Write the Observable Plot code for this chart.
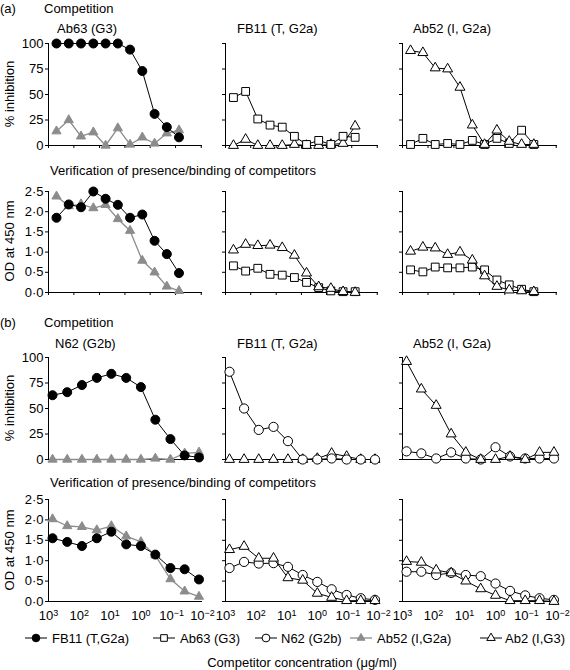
<!DOCTYPE html>
<html><head><meta charset="utf-8">
<script src="https://cdn.jsdelivr.net/npm/d3@7"></script>
<script src="https://cdn.jsdelivr.net/npm/@observablehq/plot@0.6"></script>
<style>
body{margin:0;background:#fff}
#c{position:relative;width:570px;height:670px;font-family:"Liberation Sans",Arial,Helvetica,sans-serif;font-size:13px;color:#000;overflow:hidden}
.t{position:absolute;white-space:nowrap;line-height:1;transform:translateY(-50%)}
.r{position:absolute;white-space:nowrap;line-height:1;transform:translate(-50%,-50%) rotate(-90deg)}
#c svg.p{position:absolute;overflow:visible}
</style></head><body><div id="c"></div><script>
// ---------- data ----------
// competitor concentrations (µg/ml) of the dilution series
const conc_a = [550, 220, 88, 35, 14, 5.6, 2.25, 0.9, 0.36, 0.144, 0.058];
const conc_b = [740, 247, 82, 27, 9.1, 3.0, 1.0, 0.34, 0.11, 0.038, 0.013];

const compTicks = [0, 25, 50, 75, 100];
const odTicks = [0, 0.5, 1, 1.5, 2, 2.5];
const rowATickMarks = [1000, 150, 22, 3.3, 0.5, 0.075, 0.011];
const decadeTicks = [1000, 100, 10, 1, 0.1, 0.01];

// (a) competition, % inhibition
const a_comp_Ab63_FB11 = [100, 100, 100, 100, 100, 100, 94, 73, 31, 18, 8];
const a_comp_Ab63_Ab52 = [14, 25, 9, 13, 0, 17, 1, 8, 2, 12, 15];
const a_comp_FB11_Ab63 = [47, 53, 26, 20, 18, 9, 1, 5, 1, 9, 8];
const a_comp_FB11_Ab2  = [0, 6, 0, 0, 0, 1, 0, 0, 1, 2, 19];
const a_comp_Ab52_Ab2  = [93, 91, 76, 75, 57, 20, 1, 15, 4, 1, 1];
const a_comp_Ab52_Ab63 = [1, 7, 1, 2, 1, 5, 1, 7, 2, 15, 1];
// (a) verification, OD at 450 nm
const a_od_Ab63_FB11 = [1.85, 2.18, 2.11, 2.5, 2.32, 2.17, 1.85, 1.93, 1.28, 0.95, 0.48];
const a_od_Ab63_Ab52 = [2.38, 2.14, 2.19, 2.09, 2.17, 1.82, 1.53, 0.79, 0.5, 0.15, 0.04];
const a_od_FB11_Ab2  = [1.05, 1.19, 1.16, 1.17, 1.11, 0.92, 0.48, 0.14, 0.1, 0.02, 0];
const a_od_FB11_Ab63 = [0.66, 0.53, 0.6, 0.45, 0.43, 0.37, 0.25, 0.12, 0.04, 0.02, 0.02];
const a_od_Ab52_Ab2  = [1.02, 1.12, 1.1, 0.94, 1.0, 0.8, 0.41, 0.15, 0.06, 0.04, 0.02];
const a_od_Ab52_Ab63 = [0.56, 0.51, 0.63, 0.61, 0.61, 0.63, 0.56, 0.31, 0.19, 0.08, 0.02];
// (b) competition, % inhibition
const b_comp_N62_FB11  = [63, 66, 73, 80, 84, 80, 71, 39, 20, 4, 2];
const b_comp_N62_Ab52  = [0, 0, 0, 0, 0, 0, 0, 1, 0, 6, 7];
const b_comp_FB11_N62  = [86, 50, 29, 32, 18, 0, 0, 1, 0, 0, 0];
const b_comp_FB11_Ab2  = [0, 0, 0, 0, 0, 0, 1, 6, 3, 0, 0];
const b_comp_Ab52_Ab2  = [96, 69, 53, 25, 7, 0, 0, 3, 0, 7, 7];
const b_comp_Ab52_N62  = [8, 6, 1, 7, 1, 0, 12, 3, 1, 1, 1];
// (b) verification, OD at 450 nm
const b_od_N62_FB11  = [1.55, 1.46, 1.36, 1.55, 1.71, 1.4, 1.36, 1.15, 0.82, 0.79, 0.54];
const b_od_N62_Ab52  = [2.02, 1.85, 1.83, 1.75, 1.85, 1.6, 1.46, 1.13, 0.55, 0.25, 0.12];
const b_od_FB11_Ab2  = [1.27, 1.35, 1.06, 1.06, 0.58, 0.52, 0.2, 0.1, 0.02, 0.02, 0.02];
const b_od_FB11_N62  = [0.82, 0.97, 0.93, 0.94, 0.85, 0.65, 0.48, 0.3, 0.16, 0.08, 0.04];
const b_od_Ab52_Ab2  = [0.98, 0.96, 0.77, 0.7, 0.5, 0.31, 0.15, 0.02, 0.02, 0.02, 0];
const b_od_Ab52_N62  = [0.73, 0.73, 0.65, 0.7, 0.65, 0.62, 0.44, 0.26, 0.15, 0.08, 0.04];

const legendKeys = ["FB11", "Ab63", "N62", "Ab52", "Ab2"];
const legendLabels = ["FB11 (T,G2a)", "Ab63 (G3)", "N62 (G2b)", "Ab52 (I,G2a)", "Ab2 (I,G3)"];

// ---------- styles / layout ----------
const GREY = "#8c8c8c";
const styles = {
  FB11: {symbol: "circle", fill: "#000", stroke: "#000", r: 4.5},
  Ab63: {symbol: "square", fill: "#fff", stroke: "#000", r: 4.4},
  N62:  {symbol: "circle", fill: "#fff", stroke: "#000", r: 4.6},
  Ab52: {symbol: "triangle", fill: GREY, stroke: GREY, r: 3.4},
  Ab2:  {symbol: "triangle", fill: "#fff", stroke: "#000", r: 3.7}
};
const X0 = [48, 225, 402], X1 = [202, 378, 557];
const ROWS = [
  {top: 43, bot: 145, kind: "comp", conc: conc_a, xt: "marks"},
  {top: 191, bot: 292, kind: "od", conc: conc_a, xt: "marks"},
  {top: 357, bot: 459, kind: "comp", conc: conc_b, xt: "none"},
  {top: 499, bot: 601, kind: "od", conc: conc_b, xt: "labels"}
];
const panels = [
  [0, 0, [["Ab52", a_comp_Ab63_Ab52], ["FB11", a_comp_Ab63_FB11]]],
  [0, 1, [["Ab2", a_comp_FB11_Ab2], ["Ab63", a_comp_FB11_Ab63]]],
  [0, 2, [["Ab63", a_comp_Ab52_Ab63], ["Ab2", a_comp_Ab52_Ab2]]],
  [1, 0, [["Ab52", a_od_Ab63_Ab52], ["FB11", a_od_Ab63_FB11]]],
  [1, 1, [["Ab63", a_od_FB11_Ab63], ["Ab2", a_od_FB11_Ab2]]],
  [1, 2, [["Ab63", a_od_Ab52_Ab63], ["Ab2", a_od_Ab52_Ab2]]],
  [2, 0, [["Ab52", b_comp_N62_Ab52], ["FB11", b_comp_N62_FB11]]],
  [2, 1, [["Ab2", b_comp_FB11_Ab2], ["N62", b_comp_FB11_N62]]],
  [2, 2, [["N62", b_comp_Ab52_N62], ["Ab2", b_comp_Ab52_Ab2]]],
  [3, 0, [["Ab52", b_od_N62_Ab52], ["FB11", b_od_N62_FB11]]],
  [3, 1, [["N62", b_od_FB11_N62], ["Ab2", b_od_FB11_Ab2]]],
  [3, 2, [["N62", b_od_Ab52_N62], ["Ab2", b_od_Ab52_Ab2]]]
];

const C = document.getElementById("c");
const fontFamily = '"Liberation Sans", Arial, Helvetica, sans-serif';
const odFmt = d => d.toFixed(1).replace(".", "\u00B7");

function makePanel([row, col, series]) {
  const R = ROWS[row];
  const ML = 50, MR = 10, MT = 10, MB = row === 3 ? 34 : 10;
  const yDomain = R.kind === "comp" ? [0, 100] : [0, 2.5];
  const yTicks = R.kind === "comp" ? compTicks : odTicks;
  const yFmt = col === 0 ? (R.kind === "comp" ? d => String(d) : odFmt) : () => "";
  const marks = [
    Plot.ruleY([0], {stroke: "#000", strokeWidth: 1}),
    Plot.ruleX([1000], {y1: yDomain[0], y2: yDomain[1], stroke: "#000", strokeWidth: 1}),
    Plot.axisY({ticks: yTicks, tickSize: 3, tickPadding: 2, tickFormat: yFmt, label: null, fontSize: 13})
  ];
  if (R.xt === "marks") {
    marks.push(Plot.axisX({ticks: rowATickMarks, tickSize: 3, tickFormat: () => "", label: null}));
  } else if (R.xt === "labels") {
    marks.push(Plot.axisX({ticks: decadeTicks, tickSize: 0, tickPadding: 9, label: null, fontSize: 13,
      tickFormat: d => "10^" + Math.round(Math.log10(d))}));
  }
  for (const [key, vals] of series) {
    const s = styles[key];
    const data = R.conc.map((c, i) => ({c, v: vals[i]}));
    marks.push(Plot.line(data, {x: "c", y: "v", stroke: s.stroke, strokeWidth: key === "Ab52" ? 1.3 : 1}));
    marks.push(Plot.dot(data, {x: "c", y: "v", symbol: s.symbol, fill: s.fill, stroke: s.stroke, strokeWidth: 1, r: s.r}));
  }
  const svg = Plot.plot({
    width: (X1[col] - X0[col]) + ML + MR,
    height: (R.bot - R.top) + MT + MB,
    marginLeft: ML, marginRight: MR, marginTop: MT, marginBottom: MB,
    x: {type: "log", domain: [1000, 0.01], axis: R.xt === "none" ? null : undefined},
    y: {domain: yDomain},
    style: {fontFamily, fontSize: "13px", color: "#000", background: "transparent", overflow: "visible"},
    marks
  });
  svg.classList.add("p");
  svg.style.left = (X0[col] - ML) + "px";
  svg.style.top = (R.top - MT) + "px";
  // superscript exponents on decade labels
  d3.select(svg).selectAll("text").each(function () {
    const s = this.textContent;
    if (s.startsWith("10^")) {
      const e = s.slice(3).replace("-", "\u2212");
      const t = d3.select(this);
      t.text("10");
      t.append("tspan").attr("dy", "-0.45em").attr("font-size", "9px").text(e);
    }
  });
  C.appendChild(svg);
}
panels.forEach(makePanel);

// ---------- text ----------
function txt(s, x, y, extra) {
  const d = document.createElement("div");
  d.className = "t"; d.textContent = s;
  d.style.left = x + "px"; d.style.top = y + "px";
  if (extra) Object.assign(d.style, extra);
  C.appendChild(d); return d;
}
function rot(s, x, y) {
  const d = document.createElement("div");
  d.className = "r"; d.textContent = s;
  d.style.left = x + "px"; d.style.top = y + "px";
  C.appendChild(d);
}
txt("(a)", 0, 8); txt("Competition", 44, 8);
txt("Ab63 (G3)", 57, 28); txt("FB11 (T, G2a)", 237, 28); txt("Ab52 (I, G2a)", 413, 28);
txt("Verification of presence/binding of competitors", 50, 170);
txt("(b)", 0, 322); txt("Competition", 44, 322);
txt("N62 (G2b)", 55, 343); txt("FB11 (T, G2a)", 237, 343); txt("Ab52 (I, G2a)", 413, 343);
txt("Verification of presence/binding of competitors", 50, 482);
rot("% inhibition", 9, 94); rot("OD at 450 nm", 9, 241);
rot("% inhibition", 9, 408); rot("OD at 450 nm", 9, 550);
const ttl = txt("Competitor concentration (\u03BCg/ml)", 302, 662);
ttl.style.transform = "translate(-50%,-50%)";

// ---------- legend ----------
const legMarkX = [25, 153, 255, 350, 480];
const legTextX = [52, 180, 281, 377, 505];
const symMap = {circle: d3.symbolCircle, square: d3.symbolSquare, triangle: d3.symbolTriangle};
legendKeys.forEach((k, i) => {
  const s = styles[k];
  const w = 22, h = 14;
  const svg = d3.create("svg").attr("width", w).attr("height", h)
    .style("position", "absolute").style("left", legMarkX[i] + "px").style("top", (638 - h / 2) + "px").style("overflow", "visible");
  svg.append("line").attr("x1", 0).attr("x2", w).attr("y1", h / 2).attr("y2", h / 2)
    .attr("stroke", s.stroke).attr("stroke-width", k === "Ab52" ? 1.3 : 1);
  const rr = s.r * 0.85;
  svg.append("path").attr("transform", `translate(${w / 2},${h / 2})`)
    .attr("d", d3.symbol(symMap[s.symbol], Math.PI * rr * rr)())
    .attr("fill", s.fill).attr("stroke", s.stroke);
  C.appendChild(svg.node());
  txt(legendLabels[i], legTextX[i], 638);
});
</script></body></html>
